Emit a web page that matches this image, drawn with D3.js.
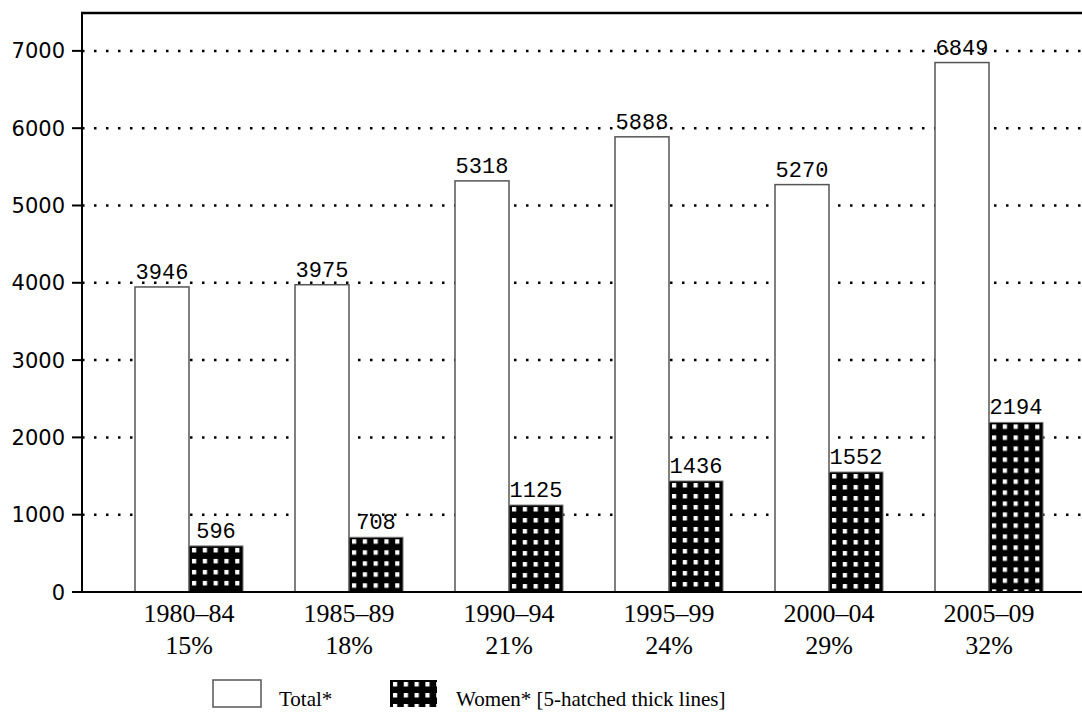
<!DOCTYPE html>
<meta charset="utf-8">
<script src="https://d3js.org/d3.v7.min.js"></script>
<style>
body { margin: 0; background: #fff; }
.ylab { font-family: "DejaVu Sans", sans-serif; font-size: 21px; }
.val { font-family: "Liberation Mono", monospace; font-size: 22px; }
.xlab, .leg { font-family: "Liberation Serif", serif; }
.xlab { font-size: 26px; }
.leg { font-size: 21px; }
</style>
<body></body>
<script>

var periods = ["1980\u201384", "1985\u201389", "1990\u201394", "1995\u201399", "2000\u201304", "2005\u201309"];
var shares = ["15%", "18%", "21%", "24%", "29%", "32%"];
var total = [3946, 3975, 5318, 5888, 5270, 6849];
var women = [596, 708, 1125, 1436, 1552, 2194];
var yTicks = [0, 1000, 2000, 3000, 4000, 5000, 6000, 7000];

var width = 1082, height = 713;
var plotL = 82, plotR = 1082, plotT = 13, plotB = 592;
var barW = 54;

var svg = d3.select("body").append("svg")
  .attr("width", width)
  .attr("height", height);

var x = d3.scaleBand()
  .domain(periods)
  .range([109, 1069]);

var y = d3.scaleLinear()
  .domain([0, 7490])
  .range([plotB, plotT]);

var data = periods.map(function(p, i) {
  return {period: p, share: shares[i], total: total[i], women: women[i]};
});

var defs = svg.append("defs");

// one hatch pattern per women bar, anchored at the bar's corner
function hatch(id, x0, y0) {
  var p = defs.append("pattern")
    .attr("id", id)
    .attr("patternUnits", "userSpaceOnUse")
    .attr("x", x0).attr("y", y0)
    .attr("width", barW / 5).attr("height", 11);
  p.append("rect").attr("width", barW / 5).attr("height", 11).attr("fill", "#000");
  p.append("rect").attr("x", 3).attr("y", 2).attr("width", 4.2).attr("height", 4.5).attr("fill", "#fff");
}

function cx(d) { return x(d.period) + x.bandwidth() / 2; }

// dotted grid
svg.selectAll(".grid")
  .data(yTicks.filter(function(d) { return d > 0; }))
  .enter().append("line")
  .attr("x1", plotL).attr("x2", plotR)
  .attr("y1", function(d) { return y(d); })
  .attr("y2", function(d) { return y(d); })
  .attr("stroke", "#000")
  .attr("stroke-width", 2.5)
  .attr("stroke-dasharray", "2.5 9.5");

var g = svg.selectAll(".grp")
  .data(data).enter().append("g");

g.append("rect")
  .attr("x", function(d) { return cx(d) - barW; })
  .attr("y", function(d) { return y(d.total); })
  .attr("width", barW)
  .attr("height", function(d) { return plotB - y(d.total); })
  .attr("fill", "#fff")
  .attr("stroke", "#555")
  .attr("stroke-width", 1.5);

g.each(function(d, i) {
  hatch("h" + i, cx(d), y(d.women));
});

g.append("rect")
  .attr("x", function(d) { return cx(d); })
  .attr("y", function(d) { return y(d.women); })
  .attr("width", barW)
  .attr("height", function(d) { return plotB - y(d.women); })
  .attr("fill", function(d, i) { return "url(#h" + i + ")"; })
  .attr("stroke", "#777")
  .attr("stroke-width", 1);

g.append("text")
  .attr("class", "val")
  .attr("text-anchor", "middle")
  .attr("x", function(d) { return cx(d) - barW / 2; })
  .attr("y", function(d) { return y(d.total) - 8; })
  .text(function(d) { return d.total; });

g.append("text")
  .attr("class", "val")
  .attr("text-anchor", "middle")
  .attr("x", function(d) { return cx(d) + barW / 2; })
  .attr("y", function(d) { return y(d.women) - 8; })
  .text(function(d) { return d.women; });

g.append("text")
  .attr("class", "xlab")
  .attr("text-anchor", "middle")
  .attr("x", cx)
  .attr("y", 622)
  .text(function(d) { return d.period; });

g.append("text")
  .attr("class", "xlab")
  .attr("text-anchor", "middle")
  .attr("x", cx)
  .attr("y", 654)
  .text(function(d) { return d.share; });

// frame
svg.append("line").attr("x1", plotL).attr("x2", plotL).attr("y1", plotT).attr("y2", plotB)
  .attr("stroke", "#000").attr("stroke-width", 2);
svg.append("line").attr("x1", plotL - 1).attr("x2", plotR).attr("y1", plotT).attr("y2", plotT)
  .attr("stroke", "#000").attr("stroke-width", 2.5);
svg.append("line").attr("x1", plotL - 1).attr("x2", plotR).attr("y1", plotB).attr("y2", plotB)
  .attr("stroke", "#000").attr("stroke-width", 2);

// y ticks and labels
var yt = svg.selectAll(".yt").data(yTicks).enter().append("g");
yt.append("line")
  .attr("x1", plotL - 10).attr("x2", plotL)
  .attr("y1", function(d) { return y(d); })
  .attr("y2", function(d) { return y(d); })
  .attr("stroke", "#000").attr("stroke-width", 2);
yt.append("text")
  .attr("class", "ylab")
  .attr("text-anchor", "end")
  .attr("x", plotL - 17)
  .attr("y", function(d) { return y(d) + 7.5; })
  .text(function(d) { return d; });

// legend
var leg = svg.append("g");
leg.append("rect").attr("x", 213).attr("y", 680).attr("width", 48).attr("height", 27)
  .attr("fill", "#fff").attr("stroke", "#555").attr("stroke-width", 1.5);
leg.append("text").attr("class", "leg").attr("x", 279).attr("y", 706).text("Total*");
hatch("hleg", 390, 680);
leg.append("rect").attr("x", 390).attr("y", 680).attr("width", 47).attr("height", 27)
  .attr("fill", "url(#hleg)");
leg.append("text").attr("class", "leg").attr("x", 456).attr("y", 706).text("Women* [5-hatched thick lines]");

</script>
